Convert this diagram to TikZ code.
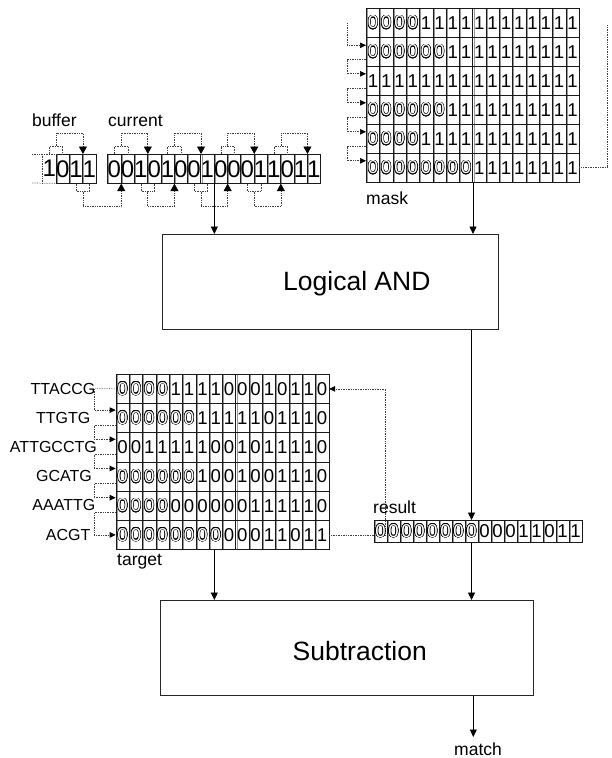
\documentclass[tikz,border=0pt]{standalone}
\usepackage{fontspec}
\setmainfont{Liberation Sans}
\usepackage{contour}
\usetikzlibrary{arrows.meta,calc}
\contourlength{0.5pt}
% masked bit: an outlined zero
\newcommand{\oz}{\contour{black}{\textcolor{white}{0}}}
\newcommand{\bitdigit}[1]{\if o#1\oz\else#1\fi}
\newcommand{\curfont}{\fontsize{24}{26}\selectfont}
\newcommand{\gridfont}{\fontsize{18.6}{20}\selectfont}
\newcommand{\lblfont}{\fontsize{17.5}{20}\selectfont}
\newcommand{\seqfont}{\fontsize{16}{18}\selectfont}
\newcommand{\bigfont}{\fontsize{26.5}{30}\selectfont}
% one row of bit cells: prefix, x0, top, width, height, font, bits
\newcommand{\bitrow}[7]{%
  \foreach \d [count=\c] in {#7} {
    \node[cell, minimum width=#4pt, minimum height=#5pt, font=#6] (#1-\c) at ({#2+(\c-1)*#4}, #3) {\bitdigit{\d}};
  }}
\begin{document}
\begin{tikzpicture}[x=1pt,y=-1pt,
  cell/.style={draw=black!90, line width=0.6pt, inner sep=0pt, anchor=north west,
    path picture={\draw[black!40, line width=0.9pt]
      ([xshift=1.3pt]path picture bounding box.north west) --
      ([xshift=1.3pt]path picture bounding box.south west);}},
  dots/.style={densely dotted, line width=0.7pt, draw=black!75},
  arr/.style={-{Triangle[width=7pt,length=7.5pt,color=black]}},
  darr/.style={-{Triangle[width=5.5pt,length=6pt,color=black]}},
  larr/.style={-{Triangle[width=8pt,length=7.5pt,color=black]}},
  block/.style={draw=black!85, line width=0.8pt, inner sep=0pt, anchor=north west},
  lbl/.style={inner sep=0pt, font=\lblfont, anchor=base west},
  seq/.style={inner sep=0pt, font=\seqfont, anchor=east},
  big/.style={inner sep=0pt, font=\bigfont, anchor=base west}
]
\useasboundingbox (0,0) rectangle (611,758);

% ---------- buffer and current ----------
\node[lbl] (buflbl) at (32,126) {buffer};
\node[lbl] (curlbl) at (108,126) {current};
\node[inner sep=0pt, minimum width=13.3pt, minimum height=29pt, anchor=north west, font=\curfont] (buf-0) at (42.4,154) {1};
\bitrow{buf}{55.7}{154}{13.3}{29}{\curfont}{0,1,1}
\bitrow{cur}{107.3}{154}{13.3}{29}{\curfont}{0,0,1,0,1,0,0,1,0,0,0,1,1,0,1,1}
\coordinate (bufext-t) at (32,154);
\coordinate (bufext-b) at (32,183);
\draw[dots] (bufext-t) -- (buf-0.north east);
\draw[dots] (bufext-b) -- (buf-0.south east);
\draw[dots] (buf-0.north west) -- (buf-0.south west);

% shifts above the row
\foreach \a/\b in {buf-0/buf-2, cur-1/cur-3, cur-5/cur-7, cur-9/cur-11, cur-13/cur-15} {
  \draw[dots] ([xshift=-6.65pt]\a.north east) -- ++(0,-8) -- ++(13.3,0) -- ++(0,8);
  \draw[dots, larr] ($(\a.north east)+(0,-8)$) -- ($(\a.north east)+(0,-21)$) -| (\b.north east);
}
% carries below the row
\foreach \a/\b in {buf-2/cur-1, cur-3/cur-5, cur-7/cur-9, cur-11/cur-13} {
  \draw[dots] ([xshift=-6.65pt]\a.south east) -- ++(0,8) -- ++(13.3,0) -- ++(0,-8);
  \draw[dots, larr] ($(\a.south east)+(0,8)$) -- ($(\a.south east)+(0,23)$) -| (\b.south east);
}

% ---------- mask ----------
\bitrow{mask1}{366}{8}{13.3}{29}{\gridfont}{o,o,o,o,1,1,1,1,1,1,1,1,1,1,1,1}
\bitrow{mask2}{366}{37}{13.3}{29}{\gridfont}{o,o,o,o,o,o,1,1,1,1,1,1,1,1,1,1}
\bitrow{mask3}{366}{66}{13.3}{29}{\gridfont}{1,1,1,1,1,1,1,1,1,1,1,1,1,1,1,1}
\bitrow{mask4}{366}{95}{13.3}{29}{\gridfont}{o,o,o,o,o,o,1,1,1,1,1,1,1,1,1,1}
\bitrow{mask5}{366}{124}{13.3}{29}{\gridfont}{o,o,o,o,1,1,1,1,1,1,1,1,1,1,1,1}
\bitrow{mask6}{366}{153}{13.3}{29}{\gridfont}{o,o,o,o,o,o,o,o,1,1,1,1,1,1,1,1}
\node[lbl] (masklbl) at (366,204) {mask};
\coordinate (mstart) at (347,23.3);
\draw[dots, darr] (mstart) |- ($(mask2-1.west)+(0,-6.5)$);
\foreach \p/\r in {2/3, 3/4, 4/5, 5/6} {
  \draw[dots, darr] ($(mask\p-1.west)+(0,8)$) -- ++(-19,0) |- ($(mask\r-1.west)+(0,-7)$);
}
\draw[dots] (mask6-16.east) -- ++(28,0) -- ++(0,-142.5);

% ---------- logical AND ----------
\node[block, minimum width=336pt, minimum height=95pt] (and) at (162,234) {};
\node[big] (andlbl) at (283,290) {Logical AND};
\draw[arr, line width=0.8pt] (cur-8.south east) -- (cur-8.south east |- and.north);
\draw[arr, line width=0.8pt] (mask6-8.south east) -- (mask6-8.south east |- and.north);

% ---------- target ----------
\bitrow{tgt1}{115.7}{374}{13.3}{29.2}{\gridfont}{o,o,o,o,1,1,1,1,0,0,0,1,0,1,1,0}
\bitrow{tgt2}{115.7}{403.2}{13.3}{29.2}{\gridfont}{o,o,o,o,o,o,1,1,1,1,1,0,1,1,1,0}
\bitrow{tgt3}{115.7}{432.4}{13.3}{29.2}{\gridfont}{0,0,1,1,1,1,1,0,0,1,0,1,1,1,1,0}
\bitrow{tgt4}{115.7}{461.6}{13.3}{29.2}{\gridfont}{o,o,o,o,o,o,1,0,0,1,0,0,1,1,1,0}
\bitrow{tgt5}{115.7}{490.8}{13.3}{29.2}{\gridfont}{o,o,o,o,0,0,0,0,0,0,1,1,1,1,1,0}
\bitrow{tgt6}{115.7}{520}{13.3}{29.2}{\gridfont}{o,o,o,o,o,o,o,o,0,0,0,1,1,0,1,1}
\node[lbl] (tgtlbl) at (117,565) {target};
\node[seq] (seq1) at (95.5,388.6) {TTACCG};
\node[seq] (seq2) at (90.5,417.8) {TTGTG};
\node[seq] (seq3) at (97,447) {ATTGCCTG};
\node[seq] (seq4) at (92,476.2) {GCATG};
\node[seq] (seq5) at (95.5,505.4) {AAATTG};
\node[seq] (seq6) at (90.5,534.6) {ACGT};
\draw[dots] (seq1.east) -- (tgt1-1.west);
\draw[dots, darr] ($(tgt1-1.west)+(-21.7,0)$) |- ($(tgt2-1.west)+(0,-8)$);
\foreach \p/\r in {2/3, 3/4, 4/5} {
  \draw[dots, darr] ($(tgt\p-1.west)+(0,7)$) -- ++(-21.7,0) |- ($(tgt\r-1.west)+(0,-8)$);
}
\draw[dots, darr] ($(tgt5-1.west)+(0,7)$) -- ++(-21.7,0) |- (tgt6-1.west);
\draw[dots, darr] (tgt6-16.east) -- ++(56.5,0) |- (tgt1-16.east);

% ---------- result ----------
\node[lbl] (reslbl) at (373,513) {result};
\bitrow{res}{373.7}{520}{13}{22}{\gridfont}{o,o,o,o,o,o,o,o,0,0,0,1,1,0,1,1}
\draw[arr, line width=0.8pt] (res-8.north |- and.south) -- (res-8.north);

% ---------- subtraction ----------
\node[block, minimum width=373pt, minimum height=95pt] (sub) at (160,600) {};
\node[big] (sublbl) at (292.5,660.7) {Subtraction};
\draw[arr, line width=0.8pt] (cur-8.south east |- tgt6-1.south) -- (cur-8.south east |- sub.north);
\draw[arr, line width=0.8pt] (res-8.south) -- (res-8.south |- sub.north);
\coordinate (matchtip) at (473.3,737);
\draw[arr, line width=0.8pt] (matchtip |- sub.south) -- (matchtip);
\node[lbl] (matchlbl) at (454,755) {match};
\end{tikzpicture}
\end{document}
